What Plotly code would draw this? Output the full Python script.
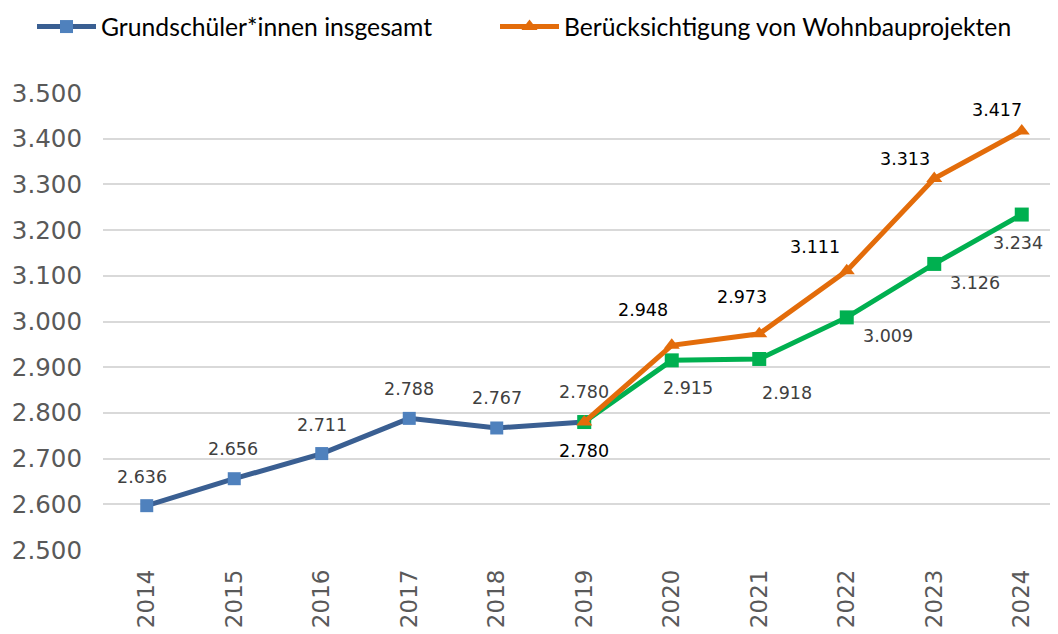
import plotly.graph_objects as go

# ---- data ----
years_blue = [2014, 2015, 2016, 2017, 2018, 2019]
blue_values = [2597, 2656, 2711, 2788, 2767, 2780]
blue_labels = ["2.636", "2.656", "2.711", "2.788", "2.767", "2.780"]

years_proj = [2019, 2020, 2021, 2022, 2023, 2024]
orange_values = [2780, 2948, 2973, 3111, 3313, 3417]
orange_labels = ["2.780", "2.948", "2.973", "3.111", "3.313", "3.417"]
green_values = [2780, 2915, 2918, 3009, 3126, 3234]
green_labels = ["", "2.915", "2.918", "3.009", "3.126", "3.234"]

all_years = list(range(2014, 2025))
y_ticks = [2500, 2600, 2700, 2800, 2900, 3000, 3100, 3200, 3300, 3400, 3500]
y_ticktext = ["2.500", "2.600", "2.700", "2.800", "2.900", "3.000",
              "3.100", "3.200", "3.300", "3.400", "3.500"]

name_blue = "Grundschüler*innen insgesamt"
name_orange = "Berücksichtigung von Wohnbauprojekten"

# ---- styles ----
BLUE_LINE = "#3A5F92"
BLUE_MARK = "#4F81BD"
ORANGE = "#E36C0A"
GREEN = "#00B050"
LABEL_FONT = "DejaVu Sans"

# label offsets in px (dx, dy with dy positive = downward)
blue_off = [(-5, -29), (-1, -30), (0, -29), (0, -29), (0, -30), (0, -30)]
orange_off = [(0, 29), (-29, -35), (-17, -37), (-32, -24), (-29, -19), (-25, -21)]
green_off = [(0, 0), (16, 28), (28, 34), (41, 19), (41, 19), (-4, 28)]

fig = go.Figure()

fig.add_trace(go.Scatter(
    x=years_blue, y=blue_values, name=name_blue, mode="lines+markers",
    legend="legend",
    line=dict(color=BLUE_LINE, width=5),
    marker=dict(symbol="square", size=13, color=BLUE_MARK),
))
fig.add_trace(go.Scatter(
    x=years_proj, y=green_values, name="Prognose", mode="lines+markers",
    showlegend=False,
    line=dict(color=GREEN, width=5),
    marker=dict(symbol="square", size=14, color=GREEN),
))
fig.add_trace(go.Scatter(
    x=years_proj, y=orange_values, name=name_orange, mode="lines+markers",
    legend="legend2",
    line=dict(color=ORANGE, width=5),
    marker=dict(symbol="triangle-up", size=14, color=ORANGE),
))

annotations = []
def add_labels(xs, ys, texts, offs, color):
    for x, y, t, (dx, dy) in zip(xs, ys, texts, offs):
        if not t:
            continue
        annotations.append(dict(
            x=x, y=y, xref="x", yref="y", text=t, showarrow=False,
            xshift=dx, yshift=-dy,
            font=dict(family=LABEL_FONT, size=17.5, color=color),
        ))

add_labels(years_blue, blue_values, blue_labels, blue_off, "#404040")
add_labels(years_proj, orange_values, orange_labels, orange_off, "#000000")
add_labels(years_proj, green_values, green_labels, green_off, "#404040")

# page body has an 8px margin: figure is sized so that it fills the window
W, H = 1050, 626
ML, MT, MB = 95, 85, 84
px_per_year = 87.5
plot_w = W - ML
plot_h = H - MT - MB

def legend_style(left_px_win, center_y_win):
    return dict(
        orientation="h",
        xref="container", yref="container",
        x=(left_px_win - 8) / W, y=1 - (center_y_win - 8) / H,
        xanchor="left", yanchor="middle",
        font=dict(family="Lato", size=24.7, color="#000000"),
        bgcolor="rgba(0,0,0,0)", itemwidth=59,
    )

fig.update_layout(
    width=W, height=H, autosize=False,
    margin=dict(l=ML, r=0, t=MT, b=MB),
    paper_bgcolor="white", plot_bgcolor="white",
    annotations=annotations,
    showlegend=True,
    legend=legend_style(32, 27),
    legend2=legend_style(495, 27),
    xaxis=dict(
        range=[2013.5, 2013.5 + plot_w / px_per_year],
        tickvals=all_years, ticktext=[str(y) for y in all_years],
        tickangle=-90, showgrid=False, zeroline=False, showline=False,
        ticks="", ticklabelstandoff=14,
        tickfont=dict(family=LABEL_FONT, size=23, color="#595959"),
    ),
    yaxis=dict(
        range=[2500, 3500], tickvals=y_ticks, ticktext=y_ticktext,
        showgrid=True, gridcolor="#D9D9D9", gridwidth=2,
        zeroline=False, showline=False, ticks="", ticklabelstandoff=20,
        tickfont=dict(family=LABEL_FONT, size=24.5, color="#595959"),
    ),
)

fig.write_html("out.html")
